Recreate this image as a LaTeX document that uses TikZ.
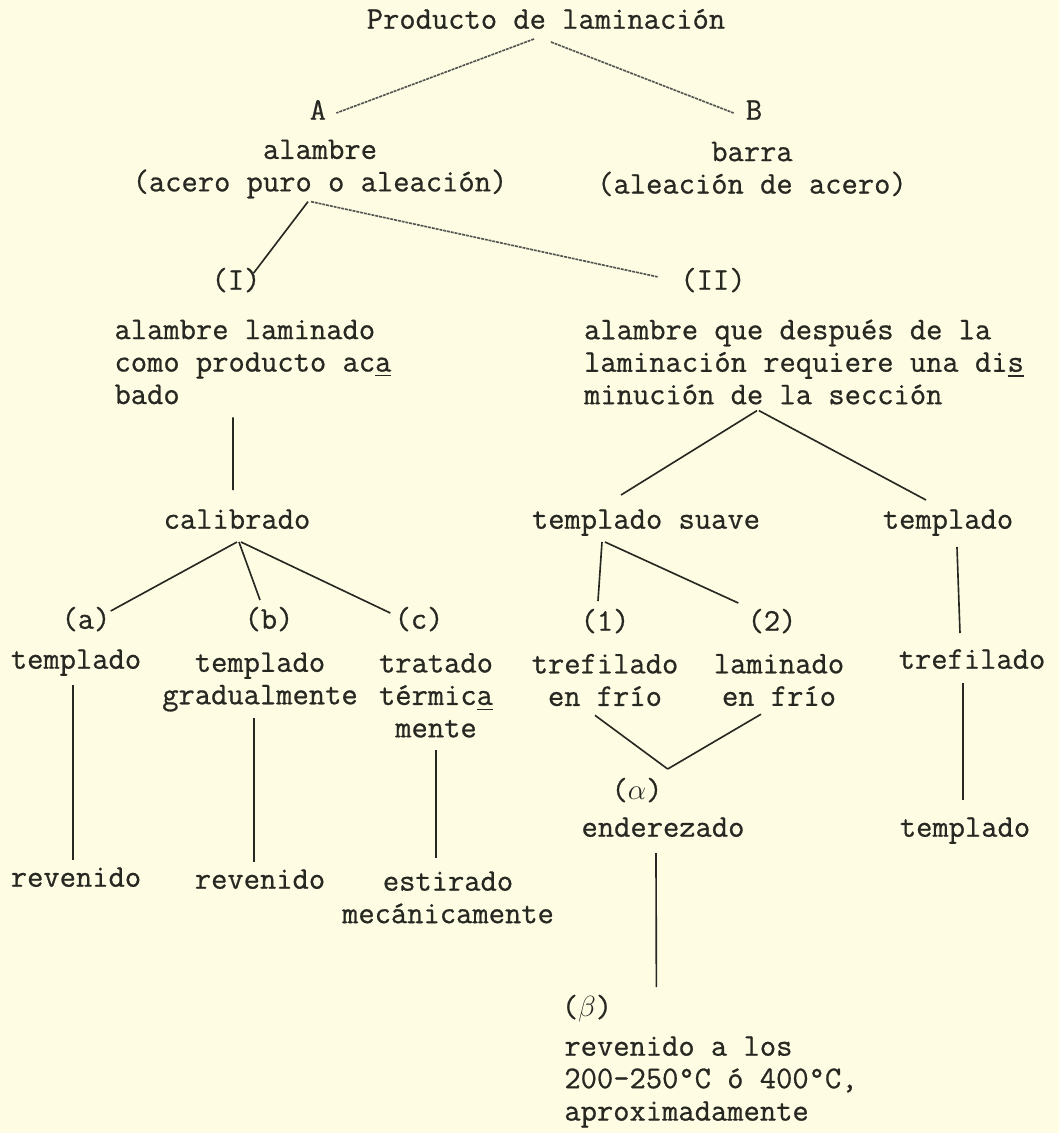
\documentclass[tikz,border=0pt]{standalone}
\usepackage{fontspec}
\usepackage{amsmath}
\usepackage{tikz}
\usetikzlibrary{positioning}
\newfontfamily\maquina{Latin Modern Mono}[FakeBold=0.7]
\definecolor{papel}{RGB}{254,253,228}
\definecolor{tinta}{RGB}{40,40,35}
\tikzstyle{rotulo} = [font=\fontsize{27}{27.7}\selectfont\maquina, text=tinta, inner sep=0pt, text height=17.5pt, text depth=6pt]
\tikzstyle{bloque} = [font=\fontsize{27}{27.7}\selectfont\maquina, text=tinta, inner sep=0pt, align=center]
\tikzstyle{bloqueizq} = [bloque, align=left]
\tikzstyle{trazo} = [draw=tinta, line width=1.4pt]
\tikzstyle{tenue} = [draw=tinta!80, line width=1.4pt, dash pattern=on 2.5pt off 0.8pt]

\begin{document}
\begin{tikzpicture}
\path[fill=papel, use as bounding box] (-16.38,0.66) rectangle (15.39,-33.33);
\node[rotulo] (prod) 
          {Producto de laminación};
\node[rotulo] (A) at (prod) [xshift=-6.84cm,yshift=-2.73cm] 
          {A};
\node[rotulo] (B) at (prod) [xshift=6.24cm,yshift=-2.73cm] 
          {B};
\node[bloque] (alambre) at (A) [xshift=0.06cm,yshift=-1.68cm] 
          {alambre\\(acero puro o aleación)};
\node[bloque] (barra) at (B) [xshift=-0.06cm,yshift=-1.68cm] 
          {barra\\(aleación de acero)};
\node[rotulo] (I) at (alambre) [xshift=-2.52cm,yshift=-3.42cm] 
          {(I)};
\node[rotulo] (II) at (alambre) [xshift=11.79cm,yshift=-3.42cm] 
          {(II)};
\node[bloqueizq] (acabado) at (I) [xshift=0.51cm,yshift=-2.37cm] 
          {alambre laminado\\como producto ac\underline{a}\\bado};
\node[bloqueizq] (seccion) at (II) [xshift=2.73cm,yshift=-2.37cm] 
          {alambre que después de la\\laminación requiere una di\underline{s}\\minución de la sección};
\node[rotulo] (calibrado) at (acabado) [xshift=-0.48cm,yshift=-4.8cm] 
          {calibrado};
\node[rotulo] (suave) at (seccion) [xshift=-4.74cm,yshift=-4.8cm] 
          {templado suave};
\node[rotulo] (templado) at (seccion) [xshift=4.32cm,yshift=-4.8cm] 
          {templado};
\node[rotulo] (a) at (calibrado) [xshift=-4.53cm,yshift=-3.0cm] 
          {(a)};
\node[rotulo] (b) at (calibrado) [xshift=0.96cm,yshift=-3.0cm] 
          {(b)};
\node[rotulo] (c) at (calibrado) [xshift=5.46cm,yshift=-3.0cm] 
          {(c)};
\node[rotulo] (uno) at (suave) [xshift=-1.23cm,yshift=-3.06cm] 
          {(1)};
\node[rotulo] (dos) at (suave) [xshift=3.78cm,yshift=-3.06cm] 
          {(2)};
\node[rotulo] (ta) at (a) [xshift=-0.3cm,yshift=-1.2cm] 
          {templado};
\node[bloque] (tb) at (b) [xshift=-0.27cm,yshift=-1.8cm] 
          {templado\\gradualmente};
\node[bloque] (tc) at (c) [xshift=0.51cm,yshift=-2.2cm] 
          {tratado\\térmic\underline{a}\\mente};
\node[bloque] (trefilado) at (uno) [xshift=0cm,yshift=-1.68cm] 
          {trefilado\\en frío};
\node[bloque] (laminado) at (dos) [xshift=0.21cm,yshift=-1.68cm] 
          {laminado\\en frío};
\node[rotulo] (trefilado2) at (templado) [xshift=0.72cm,yshift=-4.2cm] 
          {trefilado};
\node[rotulo] (alfa) at (trefilado) [xshift=0.96cm,yshift=-3.39cm] 
          {($\alpha$)};
\node[rotulo] (enderezado) at (alfa) [xshift=0.78cm,yshift=-1.11cm] 
          {enderezado};
\node[rotulo] (templado2) at (trefilado2) [xshift=-0.21cm,yshift=-5.04cm] 
          {templado};
\node[rotulo] (ra) at (ta) [xshift=0cm,yshift=-6.54cm] 
          {revenido};
\node[rotulo] (rb) at (tb) [xshift=0cm,yshift=-6.0cm] 
          {revenido};
\node[bloque] (rc) at (tc) [xshift=0.36cm,yshift=-6.06cm] 
          {estirado\\mecánicamente};
\node[rotulo] (beta) at (enderezado) [xshift=-2.28cm,yshift=-5.4cm] 
          {($\beta$)};
\node[bloqueizq] (final) at (beta) [xshift=3.72cm,yshift=-2.16cm] 
          {revenido a los\\200-250°C ó 400°C,\\aproximadamente};
\draw[tenue] ([xshift=-0.36cm,yshift=-0.09cm]{prod.south}) 
                        -- ([xshift=0.3cm]{A.east});
\draw[tenue] ([xshift=0.15cm,yshift=-0.18cm]{prod.south}) 
                        -- ([xshift=-0.36cm]{B.west});
\draw[trazo] ([xshift=-0.36cm,yshift=-0.09cm]{alambre.south}) 
                        -- ([xshift=-0.21cm,yshift=-0.12cm]{I.north east});
\draw[tenue] ([xshift=-0.27cm,yshift=-0.09cm]{alambre.south}) 
                        -- ([xshift=-0.66cm,yshift=0.18cm]{II.west});
\draw[trazo] ([xshift=-0.6cm,yshift=-0.39cm]{acabado.south}) 
                        -- ([xshift=-0.12cm,yshift=0.54cm]{calibrado.north});
\draw[trazo] ([xshift=-1.41cm,yshift=-0.18cm]{seccion.south}) 
                        -- ([xshift=-0.75cm,yshift=0.39cm]{suave.north});
\draw[trazo] ([xshift=-1.35cm,yshift=-0.18cm]{seccion.south}) 
                        -- ([xshift=-0.66cm,yshift=0.24cm]{templado.north});
\draw[trazo] ([yshift=-0.18cm]{calibrado.south}) 
                        -- ([yshift=-0.09cm]{a.north east});
\draw[trazo] ([xshift=0.06cm,yshift=-0.18cm]{calibrado.south}) 
                        -- ([xshift=-0.27cm,yshift=0.24cm]{b.north});
\draw[trazo] ([xshift=0.12cm,yshift=-0.18cm]{calibrado.south}) 
                        -- ([xshift=-0.12cm,yshift=-0.15cm]{c.north west});
\draw[trazo] ([xshift=-1.32cm,yshift=-0.18cm]{suave.south}) 
                        -- ([xshift=-0.21cm,yshift=0.27cm]{uno.north});
\draw[trazo] ([xshift=-1.23cm,yshift=-0.18cm]{suave.south}) 
                        -- ([xshift=-0.27cm,yshift=0.21cm]{dos.north west});
\draw[trazo] ([xshift=0.27cm,yshift=-0.33cm]{templado.south}) 
                        -- ([xshift=-0.36cm,yshift=0.45cm]{trefilado2.north});
\draw[trazo] ([xshift=-0.09cm,yshift=-0.27cm]{ta.south}) 
                        -- ([xshift=-0.09cm,yshift=0.18cm]{ra.north});
\draw[trazo] ([xshift=-0.18cm,yshift=-0.18cm]{tb.south}) 
                        -- ([xshift=-0.18cm,yshift=0.18cm]{rb.north});
\draw[trazo] ([yshift=-0.36cm]{tc.south}) 
                        -- ([xshift=-0.36cm,yshift=0.39cm]{rc.north});
\draw[trazo] ([xshift=-0.3cm,yshift=-0.27cm]{trefilado.south}) 
                        -- ([xshift=0.15cm,yshift=0.3cm]{alfa.north east});
\draw[trazo] ([xshift=-0.54cm,yshift=-0.24cm]{laminado.south}) 
                        -- ([xshift=0.15cm,yshift=0.3cm]{alfa.north east});
\draw[trazo] ([xshift=-0.21cm,yshift=-0.27cm]{enderezado.south}) 
                        -- ([xshift=1.32cm,yshift=0.27cm]{beta.north east});
\draw[trazo] ([xshift=-0.27cm,yshift=-0.21cm]{trefilado2.south}) 
                        -- ([xshift=-0.06cm,yshift=0.48cm]{templado2.north});
\end{tikzpicture}
\end{document}
